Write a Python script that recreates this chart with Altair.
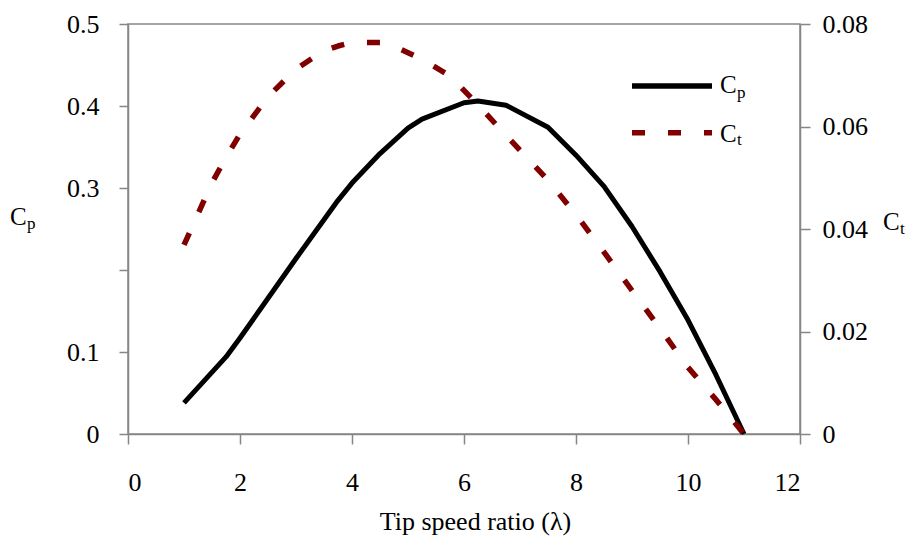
import altair as alt
import pandas as pd

# ---- data ----
lam_cp = [1, 1.75, 2, 3, 3.75, 4, 4.5, 5, 5.25, 6, 6.25, 6.75, 7.5, 8, 8.5, 9, 9.5, 10, 10.5, 11]
cp = [0.038, 0.094, 0.117, 0.214, 0.285, 0.306, 0.342, 0.373, 0.384, 0.404, 0.406, 0.401,
      0.374, 0.340, 0.302, 0.253, 0.198, 0.139, 0.072, 0.0]

lam_ct = [1, 1.5, 1.75, 2, 2.5, 3, 3.5, 3.75, 4, 4.5, 4.75, 5.25, 5.75, 6.25, 6.75, 7.5,
          8, 8.5, 9, 9.5, 10, 10.5, 11]
ct = [0.0369, 0.049, 0.054, 0.0585, 0.0658, 0.0712, 0.0748, 0.0757, 0.0764, 0.0764, 0.0757,
      0.0731, 0.0699, 0.0642, 0.0583, 0.0495, 0.0428, 0.0355, 0.028, 0.0206, 0.013, 0.0067, 0.0]

x_ticks = [0, 2, 4, 6, 8, 10, 12]
cp_ticks = [0, 0.1, 0.2, 0.3, 0.4, 0.5]
ct_ticks = [0, 0.02, 0.04, 0.06, 0.08]

cp_df = pd.DataFrame({"lam": lam_cp, "Cp": cp})
ct_df = pd.DataFrame({"lam": lam_ct, "Ct": ct})

FONT = "Liberation Serif"
GREY = "#868686"
RED = "#800000"
DASH = [13, 23]

x_enc = alt.X(
    "lam:Q",
    scale=alt.Scale(domain=[0, 12], nice=False),
    axis=alt.Axis(
        values=x_ticks, format="d", grid=False, tickSize=10, labelPadding=25,
        title="Tip speed ratio (λ)", titleX=347, titleY=95, titleAlign="center",
        titleBaseline="alphabetic", titleFontSize=26, titleFontWeight="normal",
        titleFont=FONT, titleColor="black",
    ),
)

cp_line = alt.Chart(cp_df).mark_line(
    color="black", strokeWidth=5, strokeJoin="round"
).encode(
    x=x_enc,
    y=alt.Y(
        "Cp:Q",
        scale=alt.Scale(domain=[0, 0.5], nice=False),
        axis=alt.Axis(
            orient="left", values=cp_ticks, format=".1~f",
            labelExpr="datum.value == 0.2 ? '' : datum.label",
            grid=False, tickSize=9, labelPadding=20, title=None,
        ),
    ),
)

ct_line = alt.Chart(ct_df).mark_line(
    color=RED, strokeWidth=5.5, strokeDash=DASH, strokeJoin="round"
).encode(
    x=alt.X("lam:Q", scale=alt.Scale(domain=[0, 12], nice=False)),
    y=alt.Y(
        "Ct:Q",
        scale=alt.Scale(domain=[0, 0.08], nice=False),
        axis=alt.Axis(
            orient="right", values=ct_ticks, format=".2~f",
            grid=False, tickSize=10, labelPadding=12, title=None,
        ),
    ),
)

one = alt.Data(values=[{"k": 1}])

def txt(s, x, y, size=25):
    return alt.Chart(one).mark_text(
        text=s, font=FONT, fontSize=size, align="left", baseline="alphabetic", color="black"
    ).encode(x=alt.value(x), y=alt.value(y))

# legend
leg_cp = alt.Chart(one).mark_rule(color="black", strokeWidth=5.5).encode(
    x=alt.value(504), x2=alt.value(584), y=alt.value(62)
)
leg_ct = alt.Chart(one).mark_rule(color=RED, strokeWidth=5.5, strokeDash=DASH).encode(
    x=alt.value(504), x2=alt.value(584), y=alt.value(108.8)
)

annots = [
    leg_cp, leg_ct,
    txt("C", 592, 69), txt("p", 609, 74, 17),
    txt("C", 592, 117.5), txt("t", 609, 121, 17),
    # y-axis titles
    txt("C", -118, 201), txt("p", -101, 205, 17),
    txt("C", 755, 206), txt("t", 772, 210, 17),
]

chart = alt.layer(cp_line, ct_line, *annots).resolve_scale(
    y="independent"
).properties(
    width=672, height=410,
    autosize=alt.AutoSizeParams(type="none"),
    padding={"left": 128, "top": 24, "right": 109, "bottom": 109},
).configure(
    font=FONT,
).configure_view(
    stroke=GREY, strokeWidth=1.5,
).configure_axis(
    labelFont=FONT, labelFontSize=26, labelColor="black",
    domainColor=GREY, domainWidth=1.5, tickColor=GREY, tickWidth=1.5,
)

chart.save("out.html", embed_options={"renderer": "svg", "actions": False})
